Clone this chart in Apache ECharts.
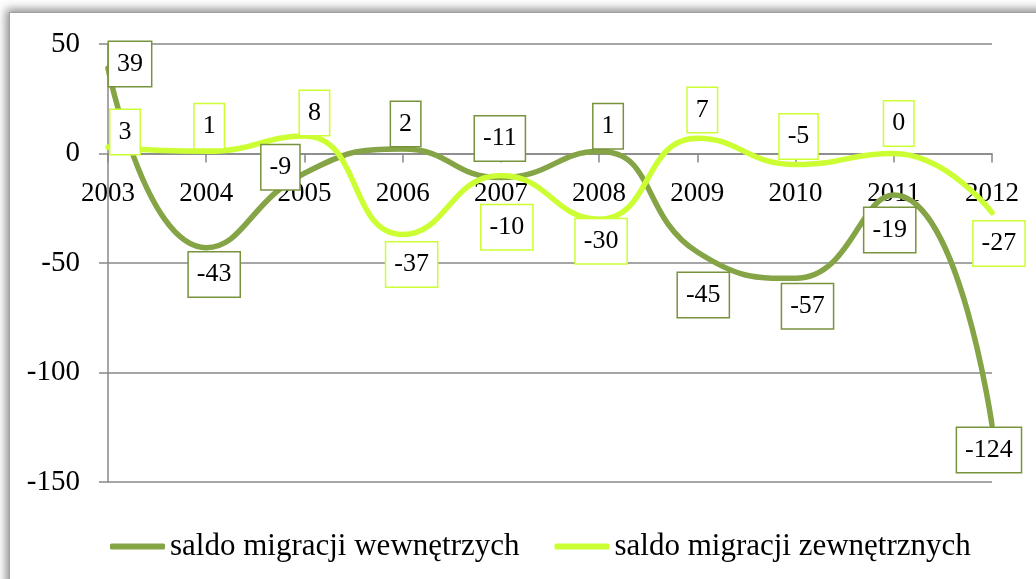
<!DOCTYPE html>
<html>
<head>
<meta charset="utf-8">
<script src="https://cdn.jsdelivr.net/npm/echarts@6/dist/echarts.min.js"></script>
<style>
  html, body { margin: 0; padding: 0; background: #fff; overflow: hidden; }
  #frame {
    position: absolute; left: 9px; top: 12px; width: 1100px; height: 700px;
    border: 1px solid #a0a0a0; background: #fff;
    box-shadow: 0 0 9px 3px rgba(0,0,0,0.45);
  }
  #mycharts { position: absolute; left: 0; top: 0; width: 1036px; height: 579px; }
</style>
</head>
<body>
<div id="frame"></div>
<div id="mycharts"></div>
<script>
// data
const years = ['2003', '2004', '2005', '2006', '2007', '2008', '2009', '2010', '2011', '2012'];
const wewnetrzne = [39, -43, -9, 2, -11, 1, -45, -57, -19, -124];
const zewnetrzne = [3, 1, 8, -37, -10, -30, 7, -5, 0, -27];
const seriesNames = ['saldo migracji wewnętrzych', 'saldo migracji zewnętrznych'];

// label box centre relative to the point (like excel put them)
const darkLabelPos = [
    [22, -4], [8, 27], [-24, -6], [3, -25], [-1, -39],
    [9, -25], [6, 43], [12, 28], [-4, 35], [-3, 25]
];
const lightLabelPos = [
    [17, -15], [3, -25], [10, -23], [9, 30], [6, 52],
    [2, 22], [5, -28], [3, -28], [5, -30], [7, 31]
];

const darkColor = '#84A446';
const lightColor = '#CCFF33';
const fontFamily = '"Liberation Serif", "Times New Roman", serif';

const gridTop = 44, gridBottom = 97, chartH = 579;
const yMin = -150, yMax = 50;
// move the category axis up to the zero line
const zeroOffset = -(chartH - gridBottom - gridTop) * (0 - yMin) / (yMax - yMin);

function buildData(values, placement) {
    return values.map(function (v, i) {
        return {
            value: v,
            label: {position: placement[i]}
        };
    });
}

function labelStyle(color) {
    return {
        show: true,
        color: '#000',
        fontFamily: fontFamily,
        fontSize: 26,
        lineHeight: 26,
        align: 'center',
        verticalAlign: 'middle',
        backgroundColor: '#fff',
        borderColor: color,
        borderWidth: 1.5,
        padding: [9, 8, 9, 8]
    };
}

let chart = echarts.init(document.getElementById('mycharts'));
chart.setOption({
    animation: false,
    grid: {left: 108, right: 44, top: gridTop, bottom: gridBottom},
    legend: {
        left: 105,
        top: 526,
        icon: 'roundRect',
        itemWidth: 55,
        itemHeight: 6,
        itemGap: 35,
        textStyle: {fontFamily: fontFamily, fontSize: 31, color: '#000'},
        data: seriesNames
    },
    xAxis: {
        type: 'category',
        data: years,
        boundaryGap: false,
        offset: zeroOffset,
        axisLine: {onZero: false, lineStyle: {color: '#888', width: 1.5}},
        axisTick: {show: true, alignWithLabel: true, length: 9, lineStyle: {color: '#888', width: 1.5}},
        axisLabel: {color: '#000', fontFamily: fontFamily, fontSize: 27, margin: 27},
        splitLine: {show: false}
    },
    yAxis: {
        type: 'value',
        min: yMin,
        max: yMax,
        interval: 50,
        axisLine: {show: true, lineStyle: {color: '#888', width: 1.5}},
        axisTick: {show: true, length: 9, lineStyle: {color: '#888', width: 1.5}},
        axisLabel: {color: '#000', fontFamily: fontFamily, fontSize: 29, margin: 28},
        splitLine: {show: true, lineStyle: {color: '#888', width: 1.5}}
    },
    series: [{
        name: seriesNames[0],
        type: 'line',
        smooth: 0.5,
        showSymbol: true,
        symbol: 'circle',
        symbolSize: 0.1,
        z: 2,
        itemStyle: {color: darkColor},
        lineStyle: {color: darkColor, width: 5.5, cap: 'round'},
        label: labelStyle('#77933C'),
        labelLayout: {hideOverlap: false},
        data: buildData(wewnetrzne, darkLabelPos)
    }, {
        name: seriesNames[1],
        type: 'line',
        smooth: 0.5,
        showSymbol: true,
        symbol: 'circle',
        symbolSize: 0.1,
        z: 2,
        itemStyle: {color: lightColor},
        lineStyle: {color: lightColor, width: 5.5, cap: 'round'},
        label: labelStyle(lightColor),
        labelLayout: {hideOverlap: false},
        data: buildData(zewnetrzne, lightLabelPos)
    }]
});
</script>
</body>
</html>
